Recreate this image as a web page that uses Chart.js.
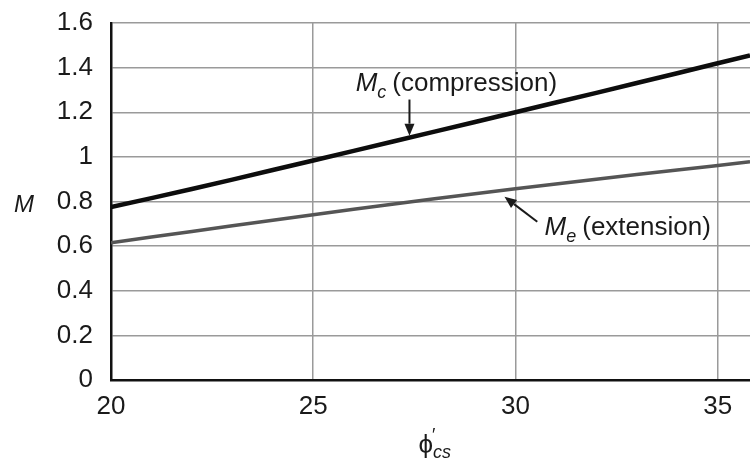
<!DOCTYPE html>
<html>
<head>
<meta charset="utf-8">
<script src="https://cdn.jsdelivr.net/npm/chart.js@4/dist/chart.umd.min.js"></script>
<style>
html,body{margin:0;padding:0;background:#fff;}
#c{display:block;}
</style>
</head>
<body>
<canvas id="c" width="750" height="467"></canvas>
<script>
// Data
const phi = [20, 22, 24, 26, 28, 30, 32, 34, 35.8];
const mCompression = [0.775, 0.856, 0.941, 1.027, 1.113, 1.200, 1.287, 1.375, 1.455];
const mExtension  = [0.615, 0.666, 0.716, 0.765, 0.812, 0.857, 0.900, 0.941, 0.978];
const xTicks = [20, 25, 30, 35];
const yTicks = [0, 0.2, 0.4, 0.6, 0.8, 1, 1.2, 1.4, 1.6];
const yTickLabels = ['0', '0.2', '0.4', '0.6', '0.8', '1', '1.2', '1.4', '1.6'];
const xTickLabels = ['20', '25', '30', '35'];

const FONT = '"Liberation Sans", Arial, Helvetica, sans-serif';

const toPts = (xs, ys) => xs.map((x, i) => ({x: x, y: ys[i]}));

function arrow(ctx, x1, y1, x2, y2, w, head, headW) {
  const ang = Math.atan2(y2 - y1, x2 - x1);
  const bx = x2 - Math.cos(ang) * head, by = y2 - Math.sin(ang) * head;
  ctx.beginPath();
  ctx.moveTo(x1, y1);
  ctx.lineTo(bx, by);
  ctx.lineWidth = w;
  ctx.stroke();
  ctx.beginPath();
  ctx.moveTo(x2, y2);
  ctx.lineTo(bx + Math.sin(ang) * headW, by - Math.cos(ang) * headW);
  ctx.lineTo(bx - Math.sin(ang) * headW, by + Math.cos(ang) * headW);
  ctx.closePath();
  ctx.fill();
}

const annotations = {
  id: 'annotations',
  afterDatasetsDraw(chart) {
    const ctx = chart.ctx, xs = chart.scales.x, ys = chart.scales.y, ca = chart.chartArea;
    const X = v => xs.getPixelForValue(v), Y = v => ys.getPixelForValue(v);
    ctx.save();
    ctx.fillStyle = '#1a1a1a';
    ctx.strokeStyle = '#1a1a1a';
    ctx.textBaseline = 'alphabetic';
    ctx.textAlign = 'left';

    // Mc label
    let x = X(26.05), y = Y(1.293);
    ctx.font = 'italic 26px ' + FONT;
    ctx.fillText('M', x, y);
    x += ctx.measureText('M').width;
    ctx.font = 'italic 18px ' + FONT;
    ctx.fillText('c', x, y + 7);
    x += ctx.measureText('c').width + 6;
    ctx.font = '26px ' + FONT;
    ctx.fillText('(compression)', x, y);
    arrow(ctx, X(27.38), Y(1.257), X(27.38), Y(1.095), 2, 12, 5);

    // Me label
    x = X(30.72); y = Y(0.651);
    ctx.font = 'italic 26px ' + FONT;
    ctx.fillText('M', x, y);
    x += ctx.measureText('M').width;
    ctx.font = 'italic 18px ' + FONT;
    ctx.fillText('e', x, y + 7);
    x += ctx.measureText('e').width + 6;
    ctx.font = '26px ' + FONT;
    ctx.fillText('(extension)', x, y);
    arrow(ctx, X(30.54), Y(0.709), X(29.73), Y(0.821), 2, 12, 5);

    // y-axis title "M"
    ctx.font = 'italic 24px ' + FONT;
    ctx.textAlign = 'center';
    ctx.fillText('M', 24, (ca.top + ca.bottom) / 2 + 10);

    // x-axis title
    ctx.textAlign = 'left';
    const cx = (ca.left + ca.right) / 2 - 12;
    const by = 453;
    ctx.font = '26px ' + FONT;
    ctx.fillText('\u03D5', cx, by);
    let px = cx + ctx.measureText('\u03D5').width;
    ctx.font = '18px ' + FONT;
    ctx.fillText('\u2032', px - 1, by - 12);
    ctx.font = 'italic 18px ' + FONT;
    ctx.fillText('cs', px, by + 5);
    ctx.restore();
  }
};

new Chart(document.getElementById('c'), {
  type: 'line',
  data: {
    datasets: [
      {label: 'Mc', data: toPts(phi, mCompression), borderColor: '#0d0d0d', borderWidth: 4.5, pointRadius: 0, tension: 0.3, fill: false},
      {label: 'Me', data: toPts(phi, mExtension), borderColor: '#555555', borderWidth: 3.5, pointRadius: 0, tension: 0.3, fill: false}
    ]
  },
  options: {
    responsive: false,
    animation: false,
    layout: {padding: {left: 0, right: 0, top: 23, bottom: 0}},
    plugins: {legend: {display: false}, tooltip: {enabled: false}},
    scales: {
      x: {
        type: 'linear', min: 20, max: 35.8,
        afterBuildTicks: s => { s.ticks = xTicks.map(v => ({value: v})); },
        afterFit: s => { s.height = 87; s.paddingLeft = 0; s.paddingRight = 0; },
        ticks: {
          callback: (v, i) => xTickLabels[i],
          font: {family: FONT, size: 26}, color: '#1a1a1a', padding: 11, maxRotation: 0
        },
        grid: {color: '#9a9a9a', lineWidth: 1.5, drawTicks: false},
        border: {color: '#111', width: 2.5}
      },
      y: {
        type: 'linear', min: 0, max: 1.6,
        afterBuildTicks: s => { s.ticks = yTicks.map(v => ({value: v})); },
        afterFit: s => { s.width = 111; s.paddingTop = 0; s.paddingBottom = 0; },
        ticks: {
          callback: (v, i) => yTickLabels[i],
          font: {family: FONT, size: 26}, color: '#1a1a1a', padding: 18
        },
        grid: {color: '#9a9a9a', lineWidth: 1.5, drawTicks: false},
        border: {color: '#111', width: 2.5}
      }
    }
  },
  plugins: [annotations]
});
</script>
</body>
</html>
